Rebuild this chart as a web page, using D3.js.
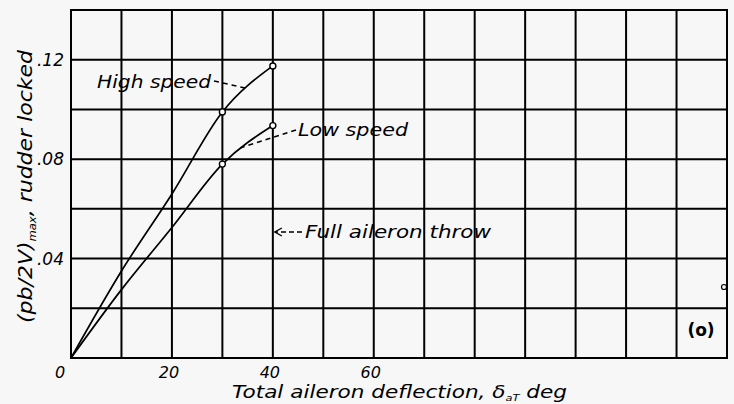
<!DOCTYPE html>
<html><head><meta charset="utf-8">
<script src="https://cdn.jsdelivr.net/npm/d3@7"></script>
<style>
html,body{margin:0;padding:0;background:#f7f7f7;}
text{font-family:"DejaVu Sans",sans-serif;font-style:italic;fill:#000;}
</style></head>
<body>
<script>
// ---- data ----
const xTickValues = [0, 20, 40, 60];
const xTickLabels = ["0", "20", "40", "60"];
const yTickValues = [0.04, 0.08, 0.12];
const yTickLabels = [".04", ".08", ".12"];
const deflection = [0, 10, 20, 30, 40];
const highSpeed = [0, 0.0350, 0.0660, 0.0990, 0.1175];
const lowSpeed  = [0, 0.0275, 0.0525, 0.0780, 0.0935];
const markerDeflection = [30, 40];
const highSpeedMarkers = [0.0990, 0.1175];
const lowSpeedMarkers  = [0.0780, 0.0935];

const W = 734, H = 404;
const svg = d3.select("body").append("svg").attr("width", W).attr("height", H);
svg.append("rect").attr("width", W).attr("height", H).attr("fill", "#f7f7f7");

const x = d3.scaleLinear().domain([0, 130]).range([71, 727]);
const y = d3.scaleLinear().domain([0, 0.14]).range([358, 10]);

// grid
const g = svg.append("g");
g.selectAll("line.v").data(d3.range(0, 131, 10)).enter().append("line")
  .attr("x1", d => x(d)).attr("x2", d => x(d)).attr("y1", y(0) + 1).attr("y2", y(0.14) - 1)
  .attr("stroke", "#000").attr("stroke-width", 2);
g.selectAll("line.h").data(d3.range(0, 0.1401, 0.02)).enter().append("line")
  .attr("x1", x(0) - 1).attr("x2", x(130) + 1).attr("y1", d => y(d)).attr("y2", d => y(d))
  .attr("stroke", "#000").attr("stroke-width", 2);

// tick labels
svg.selectAll("text.xt").data(xTickValues).enter().append("text")
  .attr("x", (d, i) => x(d) - (d === 0 ? 11 : 3)).attr("y", 378)
  .attr("text-anchor", "middle").attr("font-size", 16)
  .text((d, i) => xTickLabels[i]);
svg.selectAll("text.yt").data(yTickValues).enter().append("text")
  .attr("x", 64).attr("y", d => y(d) + 6)
  .attr("text-anchor", "end").attr("font-size", 17)
  .text((d, i) => yTickLabels[i]);

// curves
const line = d3.line().curve(d3.curveMonotoneX).x(d => x(d[0])).y(d => y(d[1]));
[highSpeed, lowSpeed].forEach(s => {
  svg.append("path").datum(deflection.map((d, i) => [d, s[i]]))
    .attr("d", line).attr("fill", "none").attr("stroke", "#000").attr("stroke-width", 1.7);
});
[highSpeedMarkers, lowSpeedMarkers].forEach(s => {
  svg.selectAll(null).data(markerDeflection.map((d, i) => [d, s[i]])).enter().append("circle")
    .attr("cx", d => x(d[0])).attr("cy", d => y(d[1])).attr("r", 3)
    .attr("fill", "#fff").attr("stroke", "#000").attr("stroke-width", 1.4);
});

// annotations
function label(tx, ty, str, len, size) {
  return svg.append("text").attr("x", tx).attr("y", ty).attr("font-size", size || 18)
    .attr("textLength", len).attr("lengthAdjust", "spacingAndGlyphs").text(str);
}
label(97, 88, "High speed", 114);
svg.append("path").attr("d", `M214,81 L${x(34.5)},${y(0.1086)}`)
  .attr("stroke", "#000").attr("stroke-width", 1.5).attr("stroke-dasharray", "5,4").attr("fill", "none");
label(298, 136, "Low speed", 110);
svg.append("path").attr("d", `M296,130 L${x(33.5)},${y(0.0845)}`)
  .attr("stroke", "#000").attr("stroke-width", 1.5).attr("stroke-dasharray", "5,4").attr("fill", "none");
label(305, 238, "Full aileron throw", 186);
svg.append("path").attr("d", `M302,232 L${x(40) + 2},232`)
  .attr("stroke", "#000").attr("stroke-width", 1.4).attr("stroke-dasharray", "5,3").attr("fill", "none");
svg.append("path").attr("d", `M${x(40) + 9},228 L${x(40) + 2},232 L${x(40) + 9},236`)
  .attr("stroke", "#000").attr("stroke-width", 1.4).attr("fill", "none");
svg.append("text").attr("x", 701).attr("y", 336).attr("text-anchor", "middle")
  .attr("font-size", 17).style("font-style", "normal").style("font-weight", "bold").text("(o)");
svg.append("circle").attr("cx", x(130) - 3).attr("cy", 287).attr("r", 2.5)
  .attr("fill", "none").attr("stroke", "#000").attr("stroke-width", 1.2);

// x title
const xt = svg.append("text").attr("x", 232).attr("y", 398).attr("font-size", 17)
  .attr("textLength", 335).attr("lengthAdjust", "spacingAndGlyphs");
xt.append("tspan").text("Total aileron deflection, δ");
xt.append("tspan").attr("font-size", 9).attr("dy", 3).text("aT");
xt.append("tspan").attr("dy", -3).text(" deg");

// y title
const yt = svg.append("text").attr("transform", "translate(32,323) rotate(-90)").attr("font-size", 19)
  .attr("textLength", 273).attr("lengthAdjust", "spacingAndGlyphs");
yt.append("tspan").text("(pb/2V)");
yt.append("tspan").attr("font-size", 10).attr("dy", 4).text("max");
yt.append("tspan").attr("dy", -4).text(", rudder locked");
</script>
</body></html>
